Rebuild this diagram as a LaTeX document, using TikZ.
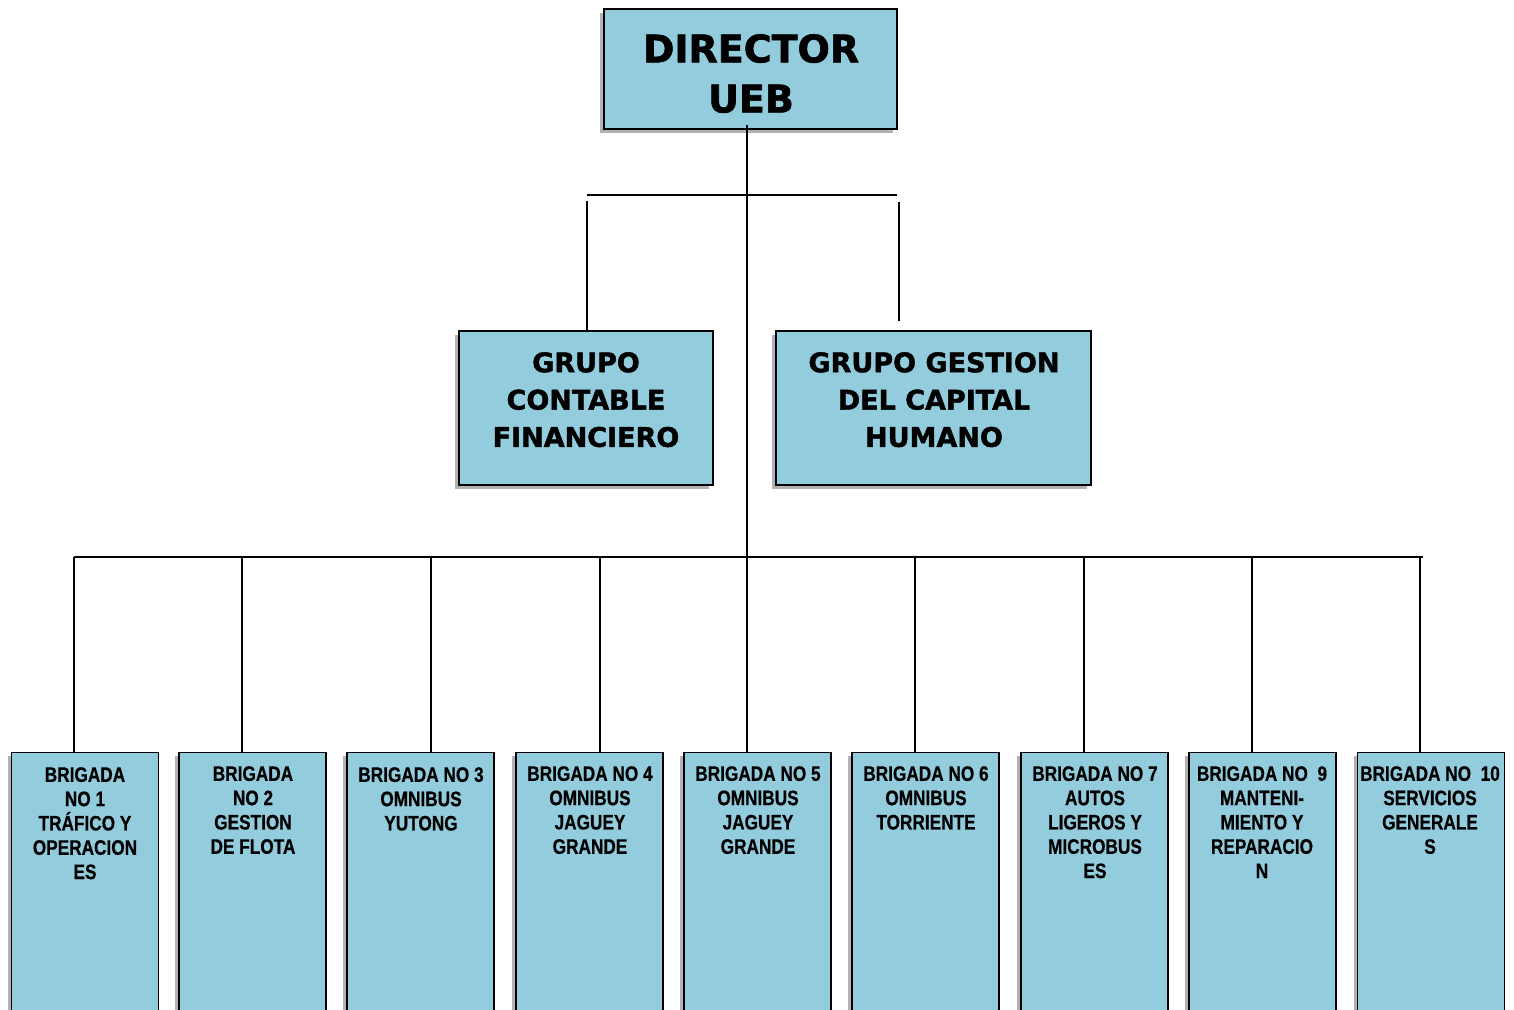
\documentclass[tikz,border=0pt]{standalone}
\usepackage{fontspec}
\setmainfont{Liberation Sans}
\newfontfamily\widefont[BoldFeatures={FakeBold=1.6}]{DejaVu Sans}
\newfontfamily\narrowfont[FakeStretch=0.82,BoldFeatures={FakeBold=0.6}]{Liberation Sans}
\usetikzlibrary{shadows}
\definecolor{boxblue}{HTML}{93CDDD}
\tikzset{
  orgbox/.style={draw=black, line width=1.8pt, fill=boxblue, inner sep=0pt,
    drop shadow={shadow xshift=-4pt, shadow yshift=-4pt, opacity=0.3, fill=black}},
  conn/.style={line width=1.8pt, draw=black},
  toptext/.style={font=\widefont\bfseries\fontsize{38}{50}\selectfont, align=center, inner sep=0pt, anchor=north},
  midtext/.style={font=\widefont\bfseries\fontsize{27}{37.3}\selectfont, align=center, inner sep=0pt, anchor=north},
  btext/.style={font=\narrowfont\bfseries\fontsize{21}{24.3}\selectfont, align=center, inner sep=0pt, anchor=north}
}
\begin{document}
\begin{tikzpicture}[x=1pt,y=-1pt]
\useasboundingbox (0,0) rectangle (1514,1009);
\clip (0,0) rectangle (1514,1009);
% boxes
\node[orgbox, minimum width=293pt, minimum height=120pt] (dir) at (750.5,69) {};
\node[orgbox, minimum width=254pt, minimum height=154pt] (g1) at (586,408) {};
\node[orgbox, minimum width=315pt, minimum height=154pt] (g2) at (933.5,408) {};
\foreach \i/\cx in {1/85,2/252.5,3/420.5,4/589.5,5/757.5,6/925.5,7/1094.5,8/1262.5,9/1431}{
  \node[orgbox, minimum width=147pt, minimum height=280pt, anchor=north] (b\i) at (\cx,751.5) {};
}
% coordinates
\coordinate (spine) at (747,580);
\coordinate (dirout) at (747,125);
\coordinate (t1) at (587,195);
\coordinate (t2) at (897,195);
\coordinate (l1) at (587,201);
\coordinate (r1) at (899,202);
\coordinate (r2) at (899,321);
\coordinate (m1) at (74,557);
\coordinate (m2) at (1423,557);
\foreach \i/\x in {1/74,2/242,3/431,4/600,5/747,6/915,7/1084,8/1252,9/1420}{
  \coordinate (c\i) at (\x,557);
}
% connectors
\draw[conn] (dirout) -- (spine);
\draw[conn] (t1) -- (t2);
\draw[conn] (l1) -- (l1 |- g1.north);
\draw[conn] (r1) -- (r2);
\draw[conn] (m1) -- (m2);
\foreach \i in {1,...,9}{
  \draw[conn] (c\i) -- (c\i |- b\i.north);
}
% texts
\node[toptext] (tdir) at (751,34) {DIRECTOR\\UEB};
\node[midtext] (tg1) at (586,352) {GRUPO\\CONTABLE\\FINANCIERO};
\node[midtext] (tg2) at (934,352) {GRUPO GESTION\\DEL CAPITAL\\HUMANO};
\node[btext] (tb1) at (85,767) {BRIGADA\\NO 1\\TRÁFICO Y\\OPERACION\\ES};
\node[btext] (tb2) at (253,766) {BRIGADA\\NO 2\\GESTION\\DE FLOTA};
\node[btext] (tb3) at (421,767) {BRIGADA NO 3\\OMNIBUS\\YUTONG};
\node[btext] (tb4) at (590,766) {BRIGADA NO 4\\OMNIBUS\\JAGUEY\\GRANDE};
\node[btext] (tb5) at (758,766) {BRIGADA NO 5\\OMNIBUS\\JAGUEY\\GRANDE};
\node[btext] (tb6) at (926,766) {BRIGADA NO 6\\OMNIBUS\\TORRIENTE};
\node[btext] (tb7) at (1095,766) {BRIGADA NO 7\\AUTOS\\LIGEROS Y\\MICROBUS\\ES};
\node[btext] (tb8) at (1262,766) {BRIGADA NO~~9\\MANTENI-\\MIENTO Y\\REPARACIO\\N};
\node[btext] (tb9) at (1430,766) {BRIGADA NO~~10\\SERVICIOS\\GENERALE\\S};
\end{tikzpicture}
\end{document}
